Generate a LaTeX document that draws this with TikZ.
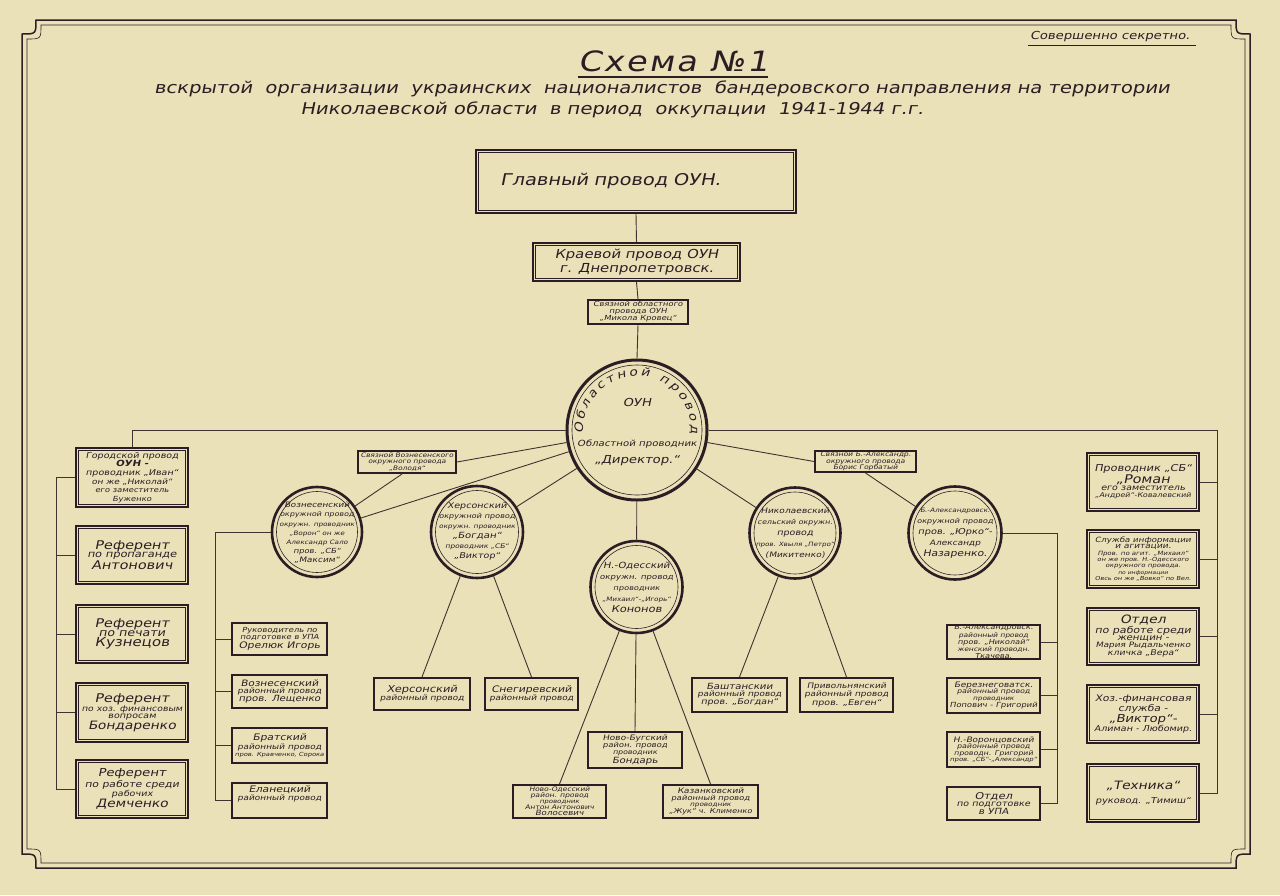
\documentclass[tikz,border=0pt]{standalone}
\usepackage{fontspec}
\setmainfont{DejaVu Sans}[FakeSlant=0.2, FakeStretch=1.2]
\usetikzlibrary{decorations.text}
\newcommand\fsz[2]{\fontsize{#1}{#2}\selectfont}
\newcommand\sz[2]{{\fontsize{#1}{#1}\selectfont #2}}
\newcommand\arcfont{\fontsize{11.5}{11.5}\selectfont}
\definecolor{paper}{RGB}{234,225,185}
\definecolor{ink}{RGB}{42,30,36}
\definecolor{wirec}{RGB}{64,50,48}
\begin{document}
\begin{tikzpicture}[x=1pt,y=1pt,
  dbl/.style={draw=ink, line width=2.2pt, inner sep=0pt, align=center, text=ink},
  sbox/.style={draw=ink, line width=2pt, inner sep=0pt, align=center, text=ink},
  ring/.style={circle, draw=ink, line width=2.6pt, inner sep=0pt},
  txt/.style={inner sep=0pt, align=center, text=ink, font=\fsz{6}{7}},
  wire/.style={draw=wirec, line width=0.9pt},
  thinline/.style={draw=ink, line width=0.6pt}]

\fill[paper] (0,0) rectangle (1280,-895);
\useasboundingbox (0,0) rectangle (1280,-895);

% frame
\draw[ink, line width=1.5pt] (36,-20) -- (1236,-20) .. controls (1236,-34) .. (1250,-34) -- (1250,-854) .. controls (1236,-854) .. (1236,-868) -- (36,-868) .. controls (36,-854) .. (22,-854) -- (22,-34) .. controls (36,-34) .. cycle;
\draw[ink, line width=0.6pt] (41,-25) -- (1231,-25) .. controls (1231,-39) .. (1245,-39) -- (1245,-849) .. controls (1231,-849) .. (1231,-863) -- (41,-863) .. controls (41,-849) .. (27,-849) -- (27,-39) .. controls (41,-39) .. cycle;

% headings
\node[txt, font=\fsz{11}{11}] (secret) at (1110,-37) {Совершенно секретно.};
\draw[ink, line width=0.8pt] (1028,-45) -- (1196,-45);
\node[txt, font=\fsz{28}{28}] (title) at (673,-61) {\addfontfeatures{LetterSpace=8}Схема №1};
\draw[ink, line width=2.4pt] (578,-77) -- (768,-77);
\node[txt, font=\fsz{16.3}{18}] (sub1) at (662,-89) {вскрытой\ \ организации\ \ украинских\ \ националистов\ \ бандеровского направления на территории};
\node[txt, font=\fsz{16.3}{18}] (sub2) at (612,-110) {Николаевской области\ \ в период\ \ оккупации\ \ 1941-1944 г.г.};

% top chain
\node[dbl, minimum width=320, minimum height=63, text width=290, align=left, font=\fsz{16.2}{17}] (main) at (636,-181.5) {\hspace*{9pt}Главный провод ОУН.};
\node[dbl, minimum width=207, minimum height=38, font=\fsz{12.4}{14}] (krai) at (636.5,-262) {Краевой провод ОУН\\ г. Днепропетровск.};
\node[sbox, minimum width=100, minimum height=24, font=\fsz{7}{7}] (lk) at (638,-312) {Связной областного\\провода ОУН\\„Микола Кровец“};

% central circle
\node[ring, minimum size=140, line width=3pt] (cen) at (637,-430) {};
\draw[thinline] (cen.center) circle[radius=65];
\path[decorate, decoration={text along path, text color=ink, text={|\arcfont|Областной провод}, text align={fit to path}}] ([shift={(184:54)}]cen.center) arc[start angle=184, end angle=-4, radius=54];
\node[txt, font=\fsz{11}{11}] (ouh) at (637,-402) {ОУН};
\node[txt, font=\fsz{8.5}{9}] (opr) at (637,-444) {Областной проводник};
\node[txt, font=\fsz{11}{11}] (dir) at (637,-461) {„Директор.“};

% link boxes
\node[sbox, minimum width=98, minimum height=22, font=\fsz{6.2}{6.6}] (LV) at (407,-462) {Связной Вознесенского\\окружного провода\\„Володя“};
\node[sbox, minimum width=101, minimum height=21, font=\fsz{6.3}{6.6}] (LB) at (865.5,-461.5) {Связной Б.-Александр.\\окружного провода\\Борис Горбатый};

% district circles
\node[ring, minimum size=90] (VZ) at (317,-532) {};
\node[ring, minimum size=92] (HS) at (477,-532) {};
\node[ring, minimum size=92] (NO) at (636.5,-587) {};
\node[ring, minimum size=91] (NK) at (795,-533) {};
\node[ring, minimum size=93] (BA) at (955,-533) {};
\foreach \c/\r in {VZ/40.5,HS/41.5,NO/41.5,NK/41,BA/42} \draw[thinline] (\c.center) circle[radius=\r];

\node[txt, font=\fsz{6}{9.2}] (VZt) at (317,-533) {\sz{7.4}{Вознесенский}\\\sz{6.6}{окружной провод}\\\sz{6}{окружн. проводник}\\\sz{6}{„Ворон“ он же}\\\sz{6}{Александр Сало}\\\sz{7}{пров. „СБ“}\\\sz{7.5}{„Максим“}};
\node[txt, font=\fsz{6}{10}] (HSt) at (477,-531) {\sz{8}{Херсонский}\\\sz{6.8}{окружной провод}\\\sz{6.1}{окружн. проводник}\\\sz{8.5}{„Богдан“}\\\sz{6.3}{проводник „СБ“}\\\sz{8}{„Виктор“}};
\node[txt, font=\fsz{6}{11}] (NOt) at (636.5,-587) {\sz{8.5}{Н.-Одесский}\\\sz{7.2}{окружн. провод}\\\sz{6.8}{проводник}\\\sz{6}{„Михаил“-„Игорь“}\\\sz{9.5}{Кононов}};
\node[txt, font=\fsz{6}{11}] (NKt) at (795,-533) {\sz{7.6}{Николаевский}\\\sz{6.6}{сельский окружн.}\\\sz{8}{провод}\\\sz{5.9}{пров. Хвыля „Петро“}\\\sz{7.5}{(Микитенко)}};
\node[txt, font=\fsz{6}{11}] (BAt) at (955,-533) {\sz{6}{Б.-Александровск.}\\\sz{6.8}{окружной провод}\\\sz{8.2}{пров. „Юрко“-}\\\sz{7.5}{Александр}\\\sz{9}{Назаренко.}};

% left column
\node[dbl, minimum width=112, minimum height=59, font=\fsz{6}{8.6}] (L1) at (132,-477.5) {\sz{8}{Городской провод}\\\sz{8.5}{\bfseries ОУН -}\\\sz{8}{проводник „Иван“}\\\sz{7.5}{он же „Николай“}\\\sz{7}{его заместитель}\\\sz{7}{Буженко}};
\node[dbl, minimum width=112, minimum height=58, font=\fsz{6}{7}] (L2) at (132,-555) {\sz{12}{Референт}\\\sz{9.5}{по пропаганде}\\\sz{12}{Антонович}};
\node[dbl, minimum width=112, minimum height=58, font=\fsz{6}{7}] (L3) at (132,-634) {\sz{12}{Референт}\\\sz{10.5}{по печати}\\\sz{12.5}{Кузнецов}};
\node[dbl, minimum width=112, minimum height=59, font=\fsz{6}{7}] (L4) at (132,-712.5) {\sz{12}{Референт}\\\sz{7.8}{по хоз. финансовым}\\\sz{8}{вопросам}\\\sz{11.5}{Бондаренко}};
\node[dbl, minimum width=112, minimum height=58, font=\fsz{6}{7}] (L5) at (132,-789) {\sz{11}{Референт}\\\sz{9}{по работе среди}\\\sz{8}{рабочих}\\\sz{11.5}{Демченко}};

% right column
\node[dbl, minimum width=112, minimum height=58, font=\fsz{6}{7}] (R1) at (1143,-482) {\sz{9.5}{Проводник „СБ“}\\\sz{12}{„Роман}\\\sz{8}{его заместитель}\\\sz{6.6}{„Андрей“-Ковалевский}};
\node[dbl, minimum width=112, minimum height=58, font=\fsz{6}{6.4}] (R2) at (1143,-559) {\sz{7.2}{Служба информации}\\\sz{7.5}{и агитации.}\\\sz{5.8}{Пров. по агит. „Михаил“}\\\sz{5.6}{он же пров. Н.-Одесского}\\\sz{5.8}{окружного провода.}\\\sz{5}{по информации}\\\sz{5.5}{Овсь он же „Вовко“ по Вел.}};
\node[dbl, minimum width=112, minimum height=57, font=\fsz{6}{7}] (R3) at (1143,-636.5) {\sz{11.5}{Отдел}\\\sz{9.2}{по работе среди}\\\sz{8.5}{женщин -}\\\sz{7.4}{Мария Рыдальченко}\\\sz{7.8}{кличка „Вера“}};
\node[dbl, minimum width=112, minimum height=58, font=\fsz{6}{7}] (R4) at (1143,-714) {\sz{9}{Хоз.-финансовая}\\\sz{9}{служба -}\\\sz{11}{„Виктор“-}\\\sz{8}{Алиман - Любомир.}};
\node[dbl, minimum width=112, minimum height=58, font=\fsz{6}{14}] (R5) at (1143,-793) {\sz{11.5}{„Техника“}\\\sz{8.2}{руковод. „Тимиш“}};

\foreach \n in {main,krai,L1,L2,L3,L4,L5,R1,R2,R3,R4,R5}
  \draw[thinline] ([shift={(3.5,-3.5)}]\n.north west) rectangle ([shift={(-3.5,3.5)}]\n.south east);

% Voznesensk sub-boxes
\node[sbox, minimum width=95, minimum height=32, font=\fsz{6}{7}] (V1) at (279.5,-639) {\sz{7}{Руководитель по}\\\sz{7}{подготовке в УПА}\\\sz{9}{Орелюк Игорь}};
\node[sbox, minimum width=95, minimum height=33, font=\fsz{6}{7}] (V2) at (279.5,-691.5) {\sz{8.8}{Вознесенский}\\\sz{7.5}{районный провод}\\\sz{8.5}{пров. Лещенко}};
\node[sbox, minimum width=95, minimum height=35, font=\fsz{6}{7}] (V3) at (279.5,-745.5) {\sz{9}{Братский}\\\sz{7.5}{районный провод}\\\sz{5.6}{пров. Кравченко, Сорока}};
\node[sbox, minimum width=95, minimum height=35] (V4) at (279.5,-800.5) {};
\node[txt, font=\fsz{6}{8}] (V4t) at (279.5,-794) {\sz{9}{Еланецкий}\\\sz{7.5}{районный провод}};

% Kherson sub-boxes
\node[sbox, minimum width=96, minimum height=32, font=\fsz{6}{8}] (H1) at (422,-694) {\sz{9.5}{Херсонский}\\\sz{7.5}{районный провод}};
\node[sbox, minimum width=93, minimum height=32, font=\fsz{6}{8}] (H2) at (531.5,-694) {\sz{9}{Снегиревский}\\\sz{7.5}{районный провод}};

% N.-Odessa sub-boxes
\node[sbox, minimum width=94, minimum height=36, font=\fsz{6}{7}] (N1) at (635,-750) {\sz{7.5}{Ново-Бугский}\\\sz{7}{район. провод}\\\sz{6.5}{проводник}\\\sz{8.5}{Бондарь}};
\node[sbox, minimum width=93, minimum height=33, font=\fsz{6}{6}] (N2) at (559.5,-801.5) {\sz{6.3}{Ново-Одесский}\\\sz{6.3}{район. провод}\\\sz{5.8}{проводник}\\\sz{6.3}{Антон Антонович}\\\sz{7.3}{Волосевич}};
\node[sbox, minimum width=95, minimum height=33, font=\fsz{6}{6.5}] (N3) at (710.5,-801.5) {\sz{7.5}{Казанковский}\\\sz{7}{районный провод}\\\sz{6}{проводник}\\\sz{6.8}{„Жук“ ч. Клименко}};

% Nikolaev sub-boxes
\node[sbox, minimum width=95, minimum height=34, font=\fsz{6}{7}] (K1) at (739.5,-695) {\sz{8.5}{Баштанскии}\\\sz{7.5}{районный провод}\\\sz{8}{пров. „Богдан“}};
\node[sbox, minimum width=93, minimum height=34, font=\fsz{6}{7}] (K2) at (846.5,-695) {\sz{7.5}{Привольнянский}\\\sz{7.5}{районный провод}\\\sz{8}{пров. „Евген“}};

% B.-Aleksandrovka sub-boxes
\node[sbox, minimum width=93, minimum height=34, font=\fsz{6}{6}] (B1) at (993.5,-642) {\sz{6.8}{Б.-Александровск.}\\\sz{6.2}{районный провод}\\\sz{6.8}{пров. „Николай“}\\\sz{6.2}{женский проводн.}\\\sz{6.8}{Ткачева.}};
\node[sbox, minimum width=93, minimum height=35, font=\fsz{6}{6.5}] (B2) at (993.5,-695.5) {\sz{7.5}{Березнеговатск.}\\\sz{6.5}{районный провод}\\\sz{6}{проводник}\\\sz{7}{Попович - Григорий}};
\node[sbox, minimum width=93, minimum height=35, font=\fsz{6}{6.5}] (B3) at (993.5,-749.5) {\sz{7.5}{Н.-Воронцовский}\\\sz{6.5}{районный провод}\\\sz{6.5}{проводн. Григорий}\\\sz{5.7}{пров. „СБ“-„Александр“}};
\node[sbox, minimum width=93, minimum height=33, font=\fsz{6}{7}] (B4) at (993.5,-803.5) {\sz{9.5}{Отдел}\\\sz{8}{по подготовке}\\\sz{8.5}{в УПА}};

% bus coordinates
\coordinate (lbus) at (56,-789);
\coordinate (rbus) at (1217,-793);
\coordinate (vbus) at (215,-800.5);
\coordinate (bbus) at (1057,-803.5);

% connectors
\draw[wire] (main.south) -- (krai.north);
\draw[wire] (krai.south) -- (lk.north);
\draw[wire] (lk.south) -- (cen.north);
\draw[wire] (cen.west) -| (L1.north);
\draw[wire] (L1.west) -| (lbus) -- (L5.west);
\foreach \n in {L2,L3,L4} \draw[wire] (\n.west) -- (\n.west -| lbus);
\draw[wire] (cen.east) -| (rbus) -- (R5.east);
\foreach \n in {R1,R2,R3,R4} \draw[wire] (\n.east) -- (\n.east -| rbus);

\draw[wire] (cen) -- (LV.east);
\draw[wire] ([xshift=-5pt]LV.south) -- (VZ);
\draw[wire] (VZ) -- (cen);
\draw[wire] (HS) -- (cen);
\draw[wire] (cen) -- (NO);
\draw[wire] (cen) -- (NK);
\draw[wire] (cen) -- (LB.west);
\draw[wire] (LB.south) -- (BA);

\draw[wire] (VZ.west) -| (vbus) -- (V4.west);
\foreach \n in {V1,V2,V3} \draw[wire] (\n.west) -- (\n.west -| vbus);
\draw[wire] (HS) -- (H1.north);
\draw[wire] (HS) -- (H2.north);
\draw[wire] (NO) -- (N1.north);
\draw[wire] (NO) -- (N2.north);
\draw[wire] (NO) -- (N3.north);
\draw[wire] (NK) -- (K1.north);
\draw[wire] (NK) -- (K2.north);
\draw[wire] (BA.east) -| (bbus) -- (B4.east);
\foreach \n in {B1,B2,B3} \draw[wire] (\n.east) -- (\n.east -| bbus);
\end{tikzpicture}
\end{document}
